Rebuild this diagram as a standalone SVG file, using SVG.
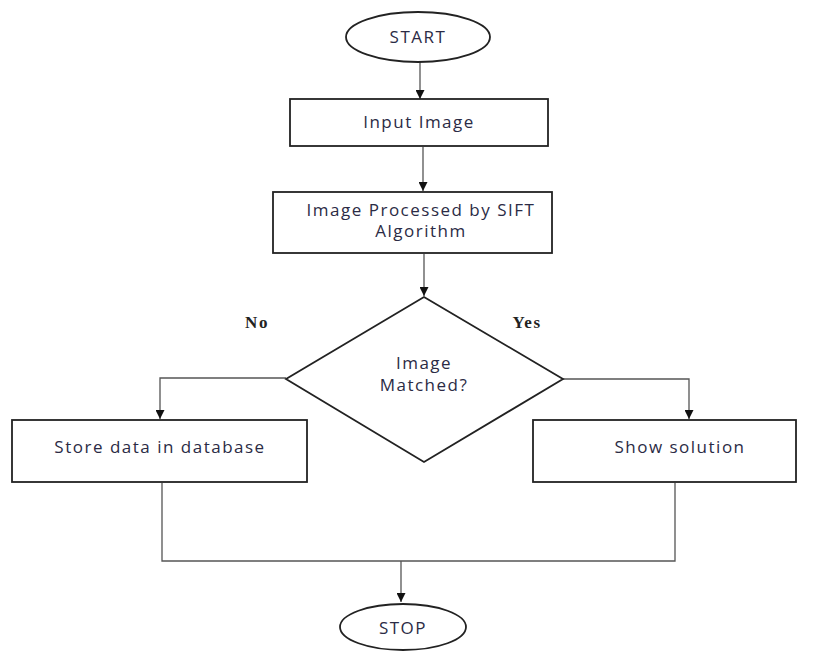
<svg xmlns="http://www.w3.org/2000/svg" width="816" height="652" viewBox="0 0 816 652">
<style>
.shape{fill:#fff;stroke:#222;stroke-width:1.8}
.conn{fill:none;stroke:#555;stroke-width:1.3}
.t{font-family:"Open Sans","Liberation Sans",sans-serif;font-size:17px;fill:#2b2b45;text-anchor:middle;letter-spacing:1.5px}
.lbl{font-family:"Liberation Serif",serif;font-size:17px;font-weight:bold;fill:#222;text-anchor:middle;letter-spacing:1.5px}
</style>
<defs>
<marker id="ah" viewBox="0 0 10 10" refX="10" refY="5" markerWidth="9" markerHeight="9" markerUnits="userSpaceOnUse" orient="auto">
<path d="M0,0 L10,5 L0,10 Z" fill="#111"/>
</marker>
</defs>
<rect width="816" height="652" fill="#fff"/>
<g id="connectors">
<line class="conn" x1="420" y1="62" x2="420" y2="99" marker-end="url(#ah)"/>
<line class="conn" x1="423" y1="147" x2="423" y2="191" marker-end="url(#ah)"/>
<line class="conn" x1="424" y1="254" x2="424" y2="296" marker-end="url(#ah)"/>
<polyline class="conn" points="286,378 160,378 160,419" marker-end="url(#ah)"/>
<polyline class="conn" points="563,379 689,379 689,419" marker-end="url(#ah)"/>
<polyline class="conn" points="162,483 162,561 675,561 675,483"/>
<line class="conn" x1="401" y1="561" x2="401" y2="602" marker-end="url(#ah)"/>
</g>
<g id="start">
<ellipse class="shape" cx="418" cy="37" rx="72" ry="25"/>
<text class="t" x="418" y="43">START</text>
</g>
<g id="input">
<rect class="shape" x="290" y="99" width="258" height="47"/>
<text class="t" x="419" y="128">Input Image</text>
</g>
<g id="sift">
<rect class="shape" x="273" y="192" width="279" height="61"/>
<text class="t" x="421" y="216">Image Processed by SIFT</text>
<text class="t" x="421" y="237">Algorithm</text>
</g>
<g id="decision">
<polygon class="shape" points="424,297 563,379 424,462 286,379"/>
<text class="t" x="424" y="369">Image</text>
<text class="t" x="424" y="391">Matched?</text>
</g>
<g id="store">
<rect class="shape" x="12" y="420" width="295" height="62"/>
<text class="t" x="160" y="453">Store data in database</text>
</g>
<g id="show">
<rect class="shape" x="533" y="420" width="263" height="62"/>
<text class="t" x="680" y="453">Show solution</text>
</g>
<g id="stop">
<ellipse class="shape" cx="403" cy="627" rx="63" ry="23"/>
<text class="t" x="403" y="634">STOP</text>
</g>
<g id="labels">
<text class="lbl" x="257" y="328">No</text>
<text class="lbl" x="527" y="328">Yes</text>
</g>
</svg>
